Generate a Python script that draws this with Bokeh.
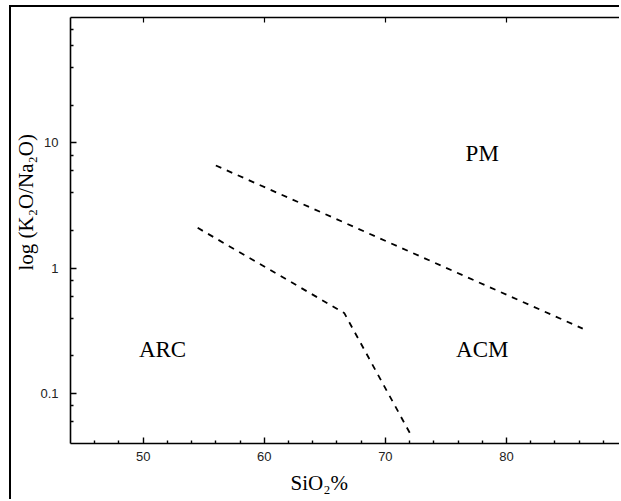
from bokeh.plotting import figure
from bokeh.models import FixedTicker, LinearAxis, Range1d, Title
from bokeh.core.properties import value
from bokeh.embed import file_html
from bokeh.resources import INLINE

# ---- data ----
x_major = [50, 60, 70, 80]
x_minor = [46, 48, 52, 54, 56, 58, 62, 64, 66, 68, 72, 74, 76, 78, 82, 84, 86, 88]
y_major = [0.1, 1, 10]
y_minor = [0.06, 0.08, 0.2, 0.4, 0.6, 0.8, 2, 4, 6, 8, 20, 40, 60, 80]
y_labels = {0.1: "0.1", 1: "1", 10: "10"}

# boundary PM / ACM
upper_x = [56.0, 86.3]
upper_y = [6.6, 0.33]
# boundary ARC / ACM (with kink)
lower_x = [54.5, 66.6, 72.1]
lower_y = [2.1, 0.44, 0.047]

field_names = ["PM", "ARC", "ACM"]
field_x = [78.0, 51.6, 78.0]
field_y = [8.2, 0.224, 0.226]

x_title = "SiO\u2082%"
y_title = "log (K\u2082O/Na\u2082O)"

x_lo, x_hi = 44.0, 89.5
y_lo, y_hi = 0.04, 100.0

p = figure(width=610, height=494, y_axis_type="log",
           x_range=Range1d(x_lo, x_hi), y_range=Range1d(y_lo, y_hi),
           output_backend="svg", toolbar_location=None,
           min_border_left=59, min_border_top=10, min_border_right=0,
           min_border_bottom=58)
p.styles = {"margin-left": "9px", "margin-top": "5px",
            "border-left": "2px solid black", "border-top": "2px solid black"}
p.background_fill_color = "white"
p.border_fill_color = "white"
p.outline_line_color = None
p.grid.visible = False

xa = p.xaxis[0]
xa.ticker = FixedTicker(ticks=x_major, minor_ticks=x_minor)
ya = p.yaxis[0]
ya.ticker = FixedTicker(ticks=y_major, minor_ticks=y_minor)
ya.major_label_overrides = y_labels

for ax in [xa, ya]:
    ax.axis_line_color = "black"
    ax.axis_line_width = 1.6
    ax.major_tick_line_color = "black"
    ax.minor_tick_line_color = "black"
    ax.major_tick_line_width = 1.4
    ax.minor_tick_line_width = 1.4
    ax.major_tick_in = 6
    ax.major_tick_out = 0
    ax.minor_tick_in = 3
    ax.minor_tick_out = 0
    ax.major_label_text_font = "Liberation Sans"
    ax.major_label_text_font_size = "13px"
    ax.major_label_text_color = "#222222"
    ax.axis_label_standoff = 0

xa.major_label_standoff = 8
ya.major_label_standoff = 12

# top frame line with inner ticks (no labels)
ta = LinearAxis(ticker=FixedTicker(ticks=[], minor_ticks=x_major))
ta.axis_line_color = "black"
ta.axis_line_width = 1.6
ta.minor_tick_in = 5
ta.minor_tick_out = 0
ta.minor_tick_line_width = 1.2
ta.major_tick_in = 0
ta.major_tick_out = 0
ta.major_label_standoff = 0
ta.axis_label_standoff = 0
p.add_layout(ta, "above")

# boundaries
p.line(upper_x, upper_y, line_color="black", line_width=1.8, line_dash="6 6")
p.line(lower_x, lower_y, line_color="black", line_width=1.8, line_dash="6 6",
       line_join="round")

# field labels
p.text(x=field_x, y=field_y, text=field_names, text_align="center",
       text_baseline="middle", text_font=value("Liberation Serif"),
       text_font_size="23px", text_color="black")

# axis titles, placed off-centre as in the reference
p.add_layout(Title(text=x_title, align="left", offset=220, standoff=10,
                   text_font="Liberation Serif", text_font_size="21px",
                   text_font_style="normal", text_color="black"), "below")
p.add_layout(Title(text=y_title, align="left", offset=173, standoff=0,
                   text_font="Liberation Serif", text_font_size="21px",
                   text_font_style="normal", text_color="black"), "left")

open("out.html", "w").write(file_html(p, INLINE))
